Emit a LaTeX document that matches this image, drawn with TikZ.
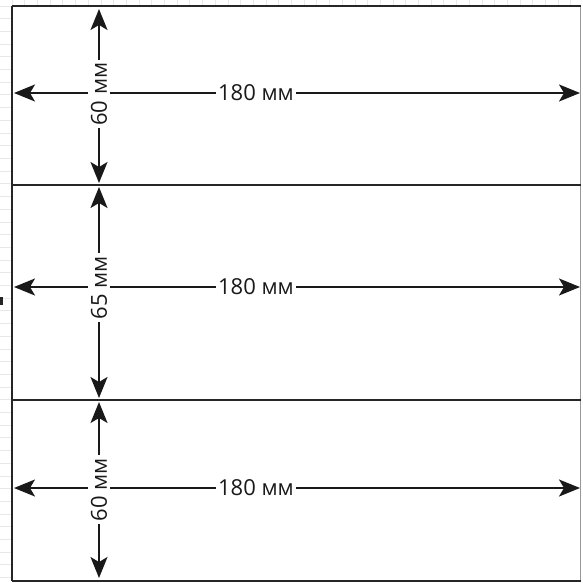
\documentclass[tikz,border=0pt]{standalone}
\usepackage{fontspec}
\setmainfont{Open Sans}
\usetikzlibrary{arrows.meta}
\begin{document}
\begin{tikzpicture}[x=1pt,y=-1pt,
  frameline/.style={draw=black!85, line width=2pt},
  sideline/.style={draw=black!40, line width=1pt},
  gridline/.style={draw=black!9, line width=0.8pt},
  dim/.style={line width=1.8pt, draw=black!90,
    {Stealth[length=21pt,width=17pt,inset=5pt]}-{Stealth[length=21pt,width=17pt,inset=5pt]}},
  lbl/.style={fill=white, inner sep=2.5pt, text=black!90,
    font=\fontsize{22}{24}\selectfont}]
\useasboundingbox (0,0) rectangle (582,583);
% faint background grid outside the frame
\begin{scope}
  \clip (0,0) rectangle (11,583);
  \foreach \k in {0,...,46} \draw[gridline] (0,{6+12.7*\k}) -- (11,{6+12.7*\k});
\end{scope}
\begin{scope}
  \clip (12,0) rectangle (582,5);
  \foreach \k in {0,...,45} \draw[gridline] ({12+12.7*\k},0) -- ({12+12.7*\k},5);
\end{scope}
\fill[black!85] (0,297) rectangle (2.5,305);
% frame corners and dividers
\coordinate (tl) at (12,6);
\coordinate (tr) at (581,6);
\coordinate (d1l) at (12,185);
\coordinate (d1r) at (581,185);
\coordinate (d2l) at (12,400);
\coordinate (d2r) at (581,400);
\coordinate (bl) at (12,581);
\coordinate (br) at (581,581);
\draw[sideline] (580.5,6) -- (580.5,581);
\draw[frameline] (tl) -- (tr);
\draw[frameline] (d1l) -- (d1r);
\draw[frameline] (d2l) -- (d2r);
\draw[frameline] (bl) -- (br);
\draw[frameline] (tl) -- (bl);
% dimension end points
\coordinate (h1a) at (14,93);  \coordinate (h1b) at (580,93);
\coordinate (h2a) at (14,287); \coordinate (h2b) at (580,287);
\coordinate (h3a) at (14,488); \coordinate (h3b) at (580,488);
\coordinate (v1a) at (99,9);   \coordinate (v1b) at (99,183);
\coordinate (v2a) at (99,187); \coordinate (v2b) at (99,398);
\coordinate (v3a) at (99,402); \coordinate (v3b) at (99,578);
\draw[dim] (h1a) -- (h1b);
\draw[dim] (h2a) -- (h2b);
\draw[dim] (h3a) -- (h3b);
\draw[dim] (v1a) -- (v1b);
\draw[dim] (v2a) -- (v2b);
\draw[dim] (v3a) -- (v3b);
% labels
\node[lbl] (w1) at (256,93) {180 мм};
\node[lbl] (w2) at (256,287) {180 мм};
\node[lbl] (w3) at (256,488) {180 мм};
\node[lbl, rotate=90] (hgt1) at (99,94) {60 мм};
\node[lbl, rotate=90] (hgt2) at (99,287.5) {65 мм};
\node[lbl, rotate=90] (hgt3) at (99,489.5) {60 мм};
\end{tikzpicture}
\end{document}
